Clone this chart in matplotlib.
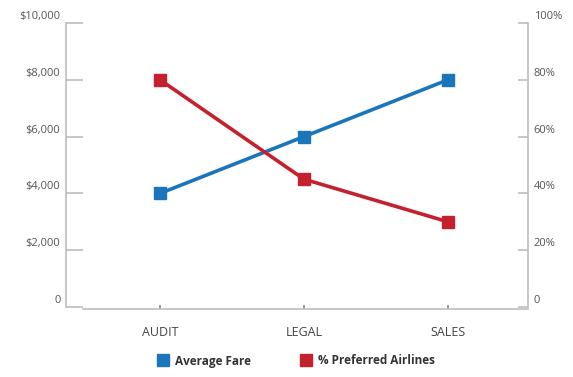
import matplotlib
matplotlib.use("Agg")
import matplotlib.pyplot as plt
from matplotlib.lines import Line2D
from matplotlib.transforms import ScaledTranslation

categories = ["AUDIT", "LEGAL", "SALES"]
average_fare = [4000, 6000, 8000]
pct_preferred = [80, 45, 30]
left_ticks = [0, 2000, 4000, 6000, 8000, 10000]
left_labels = ["0", "$2,000", "$4,000", "$6,000", "$8,000", "$10,000"]
right_ticks = [0, 20, 40, 60, 80, 100]
right_labels = ["0", "20%", "40%", "60%", "80%", "100%"]

BLUE = "#1b75bb"
RED = "#c5202e"
GREY = "#bdbdbd"
TXT = "#555555"

plt.rcParams['font.family'] = ['Open Sans', 'DejaVu Sans']

W, H = 573, 377
fig = plt.figure(figsize=(W / 100, H / 100), dpi=100)
x0, x1, y0, y1 = 66, 528, 307, 23
ax = fig.add_axes([x0 / W, 1 - y0 / H, (x1 - x0) / W, (y0 - y1) / H])
ax2 = ax.twinx()

xs = list(range(len(categories)))
ax.plot(xs, average_fare, color=BLUE, lw=2.6, marker="s", ms=8, zorder=3)
ax2.plot(xs, pct_preferred, color=RED, lw=2.6, marker="s", ms=8, zorder=3)

ax.set_xlim(-0.653, 2.556)
ax.set_ylim(0, 10000)
ax2.set_ylim(0, 100)

for a in (ax, ax2):
    a.spines["top"].set_visible(False)
    for s in a.spines.values():
        s.set_color(GREY)
        s.set_linewidth(1.2)
ax2.spines["left"].set_visible(False)
ax2.spines["bottom"].set_visible(False)
ax.spines["right"].set_visible(False)
ax.spines["bottom"].set_bounds(-0.535, 2.556)
ax.spines["bottom"].set_position(("outward", 1.5))

ax.set_yticks(left_ticks)
ax.set_yticklabels(left_labels)
ax2.set_yticks(right_ticks)
ax2.set_yticklabels(right_labels)
ax.set_xticks(xs)
ax.set_xticklabels(categories)

ax.tick_params(axis="y", direction="in", length=12, width=1.2, color=GREY,
               labelsize=8, labelcolor=TXT, pad=4)
ax2.tick_params(axis="y", direction="in", length=7, width=1.2, color=GREY,
                labelsize=8, labelcolor=TXT, pad=4)
ax.tick_params(axis="x", direction="in", length=3, width=1.2, color="#888888",
               labelsize=9, labelcolor="#444444", pad=12)

off = ScaledTranslation(0, 0.08, fig.dpi_scale_trans)
for lab in ax.get_yticklabels() + ax2.get_yticklabels():
    lab.set_transform(lab.get_transform() + off)

handles = [Line2D([], [], ls="none", marker="s", ms=9, color=BLUE),
           Line2D([], [], ls="none", marker="s", ms=9, color=RED)]
fig.legend(handles, ["Average Fare", "% Preferred Airlines"], loc="center",
           bbox_to_anchor=(296 / W, 1 - 361 / H), ncol=2, frameon=False,
           handletextpad=0.5, columnspacing=4.2, handlelength=1.0,
           prop={"size": 8.5, "weight": "bold"}, labelcolor="#333333")

fig.savefig("out.png", dpi=100)
